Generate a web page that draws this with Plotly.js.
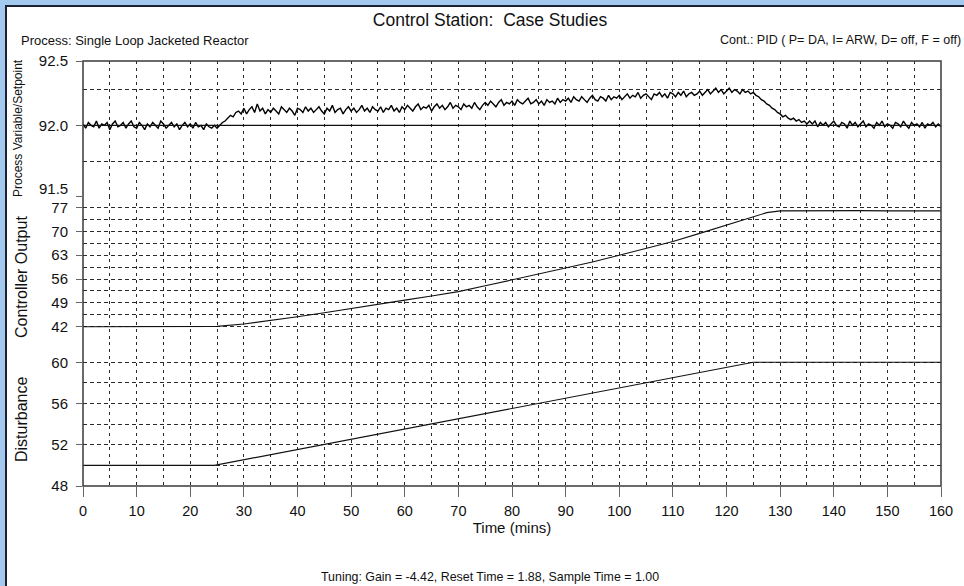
<!DOCTYPE html>
<html><head><meta charset="utf-8">
<script src="https://cdn.plot.ly/plotly-3.0.1.min.js"></script>
<style>
html,body{margin:0;padding:0;width:964px;height:586px;overflow:hidden;background:#a4c9ef;}
#frame{position:absolute;left:5px;top:5px;width:959px;height:581px;background:#fff;border-left:2px solid #1c2233;border-top:2px solid #1c2233;box-sizing:border-box;}
#chart{position:absolute;left:0;top:0;width:964px;height:586px;}
</style></head><body>
<div id="frame"></div><div id="chart"></div>
<script>
const pvValues = [
 92.01, 91.98, 92.02, 92.00, 91.99, 92.03, 91.98, 92.01, 92.00, 92.02,
 91.97, 92.01, 92.03, 91.99, 92.00, 92.02, 91.98, 92.01, 92.03, 91.99,
 91.98, 92.02, 92.00, 91.97, 92.01, 91.99, 92.02, 92.00, 91.98, 92.03,
 92.01, 91.98, 92.00, 92.02, 91.99, 92.01, 91.97, 92.00, 92.02, 91.99,
 92.01, 91.98, 92.02, 91.99, 92.00, 91.97, 92.01, 91.99, 91.98, 92.00,
 91.98,
 92.00, 92.02, 92.03, 92.05, 92.07, 92.06, 92.09, 92.10, 92.08,
 92.12, 92.08, 92.11, 92.13, 92.09, 92.15, 92.10, 92.12, 92.08, 92.11,
 92.09, 92.12, 92.10, 92.08, 92.13, 92.11, 92.09, 92.12, 92.10, 92.07,
 92.12, 92.11, 92.09, 92.13, 92.10, 92.12, 92.09, 92.11, 92.13, 92.10,
 92.08, 92.12, 92.10, 92.14, 92.09, 92.11, 92.12, 92.08, 92.11, 92.13,
 92.10, 92.12, 92.09, 92.11, 92.14, 92.10, 92.12, 92.09, 92.13, 92.11,
 92.10, 92.13, 92.09, 92.12, 92.11, 92.14, 92.10, 92.12, 92.09, 92.13,
 92.11, 92.14, 92.12, 92.10, 92.13, 92.15, 92.11, 92.13, 92.12, 92.14,
 92.10, 92.13, 92.15, 92.12, 92.14, 92.11, 92.13, 92.16, 92.12, 92.14,
 92.13, 92.11, 92.15, 92.13, 92.14, 92.12, 92.16, 92.13, 92.11, 92.14,
 92.16, 92.14, 92.17, 92.15, 92.13, 92.16, 92.18, 92.14, 92.16, 92.15,
 92.17, 92.14, 92.18, 92.16, 92.15, 92.17, 92.19, 92.15, 92.16, 92.18,
 92.15, 92.17, 92.14, 92.18, 92.16, 92.17, 92.15, 92.19, 92.16, 92.18,
 92.17, 92.19, 92.16, 92.20, 92.18, 92.17, 92.20, 92.18, 92.16, 92.19,
 92.21, 92.18, 92.17, 92.20, 92.19, 92.17, 92.21, 92.18, 92.20, 92.19,
 92.21, 92.18, 92.20, 92.22, 92.19, 92.21, 92.20, 92.23, 92.19, 92.21,
 92.22, 92.20, 92.18, 92.22, 92.21, 92.23, 92.20, 92.22, 92.19, 92.23,
 92.22, 92.20, 92.23, 92.21, 92.24, 92.20, 92.22, 92.23, 92.21, 92.22,
 92.24, 92.21, 92.23, 92.25, 92.22, 92.24, 92.26, 92.23, 92.25, 92.22,
 92.24, 92.26, 92.23, 92.25, 92.24, 92.22, 92.25, 92.23, 92.24, 92.22,
 92.23, 92.21, 92.20, 92.18, 92.17, 92.15, 92.14, 92.12, 92.11, 92.09,
 92.08, 92.06, 92.07, 92.05, 92.04, 92.05, 92.03, 92.04, 92.02, 92.03,
 92.01, 92.03,
 92.01, 92.03, 91.99, 92.02, 92.00, 92.02, 91.99, 92.01, 92.03, 92.00,
 91.99, 92.02, 92.01, 91.98, 92.03, 92.00, 92.02, 91.99, 92.01, 92.03,
 91.99, 92.01, 92.00, 91.98, 92.02, 92.00, 92.03, 91.99, 92.01, 92.00,
 91.98, 92.02, 92.01, 91.99, 92.03, 92.00, 91.98, 92.02, 92.00, 92.01,
 91.99, 92.02, 91.98, 92.01, 92.00, 92.02, 91.99, 92.01, 91.99
];
const spTime = [0, 160];
const spValues = [92.0, 92.0];

const coTime = [0,5,10,15,20,25,30,35,40,45,50,55,60,65,70,75,80,85,90,95,100,105,110,115,120,125,127.5,130,135,140,145,150,155,160];
const coValues = [42,42,42,42,42,42.1,42.8,43.8,44.9,46.1,47.4,48.6,49.8,51.0,52.3,54.0,55.7,57.4,59.1,61.0,63.0,65.0,67.0,69.4,71.9,74.3,75.5,76.0,76.1,76.0,76.1,76.0,76.1,76.0];

const distTime = [0, 24.5, 125, 160];
const distValues = [50, 50, 60, 60];

const xTicks = [0,10,20,30,40,50,60,70,80,90,100,110,120,130,140,150,160];
const pvTickVals = [91.5, 92.0, 92.45];
const pvTickText = ['', '92.0', '92.5'];
const coTickVals = [42, 49, 56, 63, 70, 77];
const distTickVals = [48, 52, 56, 60];

const FONT = 'Arial, "Liberation Sans", sans-serif';
const GRID = '#2a2a2a';

const traces = [
  {x0: 0, dx: 0.5, y: pvValues, type: 'scatter', mode: 'lines', xaxis: 'x', yaxis: 'y',
   line: {color: '#000', width: 1.4}, name: 'PV'},
  {x: spTime, y: spValues, type: 'scatter', mode: 'lines', xaxis: 'x', yaxis: 'y',
   line: {color: '#111', width: 1.2}, name: 'Setpoint'},
  {x: coTime, y: coValues, type: 'scatter', mode: 'lines', xaxis: 'x', yaxis: 'y2',
   line: {color: '#111', width: 1.1}, name: 'CO'},
  {x: distTime, y: distValues, type: 'scatter', mode: 'lines', xaxis: 'x', yaxis: 'y3',
   line: {color: '#111', width: 1.1}, name: 'Disturbance'}
];

function yAx(domain, range, tickvals, ticktext, minorTick0, minorDtick) {
  const a = {
    domain: domain, range: range, anchor: 'x', tickmode: 'array', tickvals: tickvals,
    ticks: 'outside', ticklen: 6, tickcolor: '#666', tickwidth: 1, ticklabelstandoff: 5,
    tickfont: {size: 15, color: '#111', family: FONT},
    showgrid: true, gridcolor: GRID, gridwidth: 1, griddash: '4px,3px',
    minor: {tick0: minorTick0, dtick: minorDtick, showgrid: true, gridcolor: GRID, gridwidth: 1, griddash: '4px,3px', ticks: ''},
    zeroline: false, showline: false, fixedrange: true
  };
  if (ticktext) a.ticktext = ticktext;
  return a;
}

const px = v => (v - 83) / 858;
const py = v => (486 - v) / 425;

const layout = {
  width: 964, height: 586,
  margin: {l: 83, r: 23, t: 61, b: 100, pad: 0},
  paper_bgcolor: 'rgba(0,0,0,0)', plot_bgcolor: 'rgba(0,0,0,0)',
  showlegend: false,
  font: {family: FONT, color: '#111'},
  title: {text: 'Control Station:\u00a0 Case Studies', font: {size: 17.5, family: FONT, color: '#111'},
          xref: 'container', yref: 'container', x: 490/964, y: 1 - 20/586, xanchor: 'center', yanchor: 'middle'},
  xaxis: {
    domain: [0, 1], range: [0, 160], anchor: 'y3', tickmode: 'array', tickvals: xTicks,
    ticks: 'outside', ticklen: 10, tickcolor: '#666', tickwidth: 1, ticklabelstandoff: 2,
    tickfont: {size: 14.5, color: '#111', family: FONT},
    showgrid: true, gridcolor: GRID, gridwidth: 1, griddash: '3px,4px',
    minor: {tick0: 0, dtick: 5, showgrid: true, gridcolor: GRID, gridwidth: 1, griddash: '3px,4px', ticks: ''},
    zeroline: false, showline: false, fixedrange: true,
    title: {text: 'Time (mins)', font: {size: 15, family: FONT, color: '#111'}, standoff: 2}
  },
  yaxis: yAx([0.68, 1], [91.499, 92.45], pvTickVals, pvTickText, 91.5, 0.25),
  yaxis2: yAx([0.3468, 0.6833], [38.5, 80.5], coTickVals, null, 38.5, 3.5),
  yaxis3: yAx([0, 0.3395], [48, 62], distTickVals, null, 48, 2),
  shapes: [
    {type: 'rect', xref: 'paper', yref: 'paper', x0: 0, x1: 1, y0: 0, y1: 1,
     line: {color: '#3a3a3a', width: 1.5}, fillcolor: 'rgba(0,0,0,0)', layer: 'above'}
  ],
  annotations: [
    {text: '91.5', xref: 'paper', yref: 'paper', x: px(69), y: py(188),
     showarrow: false, font: {size: 15, family: FONT, color: '#111'}, xanchor: 'right', yanchor: 'middle', borderpad: 0},
    {text: 'Process Variable/Setpoint', xref: 'paper', yref: 'paper', x: px(18), y: py(128),
     textangle: -90, showarrow: false, font: {size: 12, family: FONT, color: '#111'}, xanchor: 'center', yanchor: 'middle'},
    {text: 'Controller Output', xref: 'paper', yref: 'paper', x: px(21), y: py(277),
     textangle: -90, showarrow: false, font: {size: 16, family: FONT, color: '#111'}, xanchor: 'center', yanchor: 'middle'},
    {text: 'Disturbance', xref: 'paper', yref: 'paper', x: px(21), y: py(420),
     textangle: -90, showarrow: false, font: {size: 16, family: FONT, color: '#111'}, xanchor: 'center', yanchor: 'middle'},
    {text: 'Process: Single Loop Jacketed Reactor', xref: 'paper', yref: 'paper', x: px(19), y: py(40),
     showarrow: false, font: {size: 13, family: FONT, color: '#111'}, xanchor: 'left', yanchor: 'middle'},
    {text: 'Cont.: PID ( P= DA, I= ARW, D= off, F = off)', xref: 'paper', yref: 'paper', x: px(963), y: py(40),
     showarrow: false, font: {size: 12.5, family: FONT, color: '#111'}, xanchor: 'right', yanchor: 'middle'},
    {text: 'Tuning: Gain = -4.42, Reset Time = 1.88, Sample Time = 1.00', xref: 'paper', yref: 'paper', x: px(490), y: py(577),
     showarrow: false, font: {size: 12.4, family: FONT, color: '#111'}, xanchor: 'center', yanchor: 'middle', borderpad: 0}
  ]
};

Plotly.newPlot('chart', traces, layout, {staticPlot: true, displayModeBar: false});
</script>
</body></html>
